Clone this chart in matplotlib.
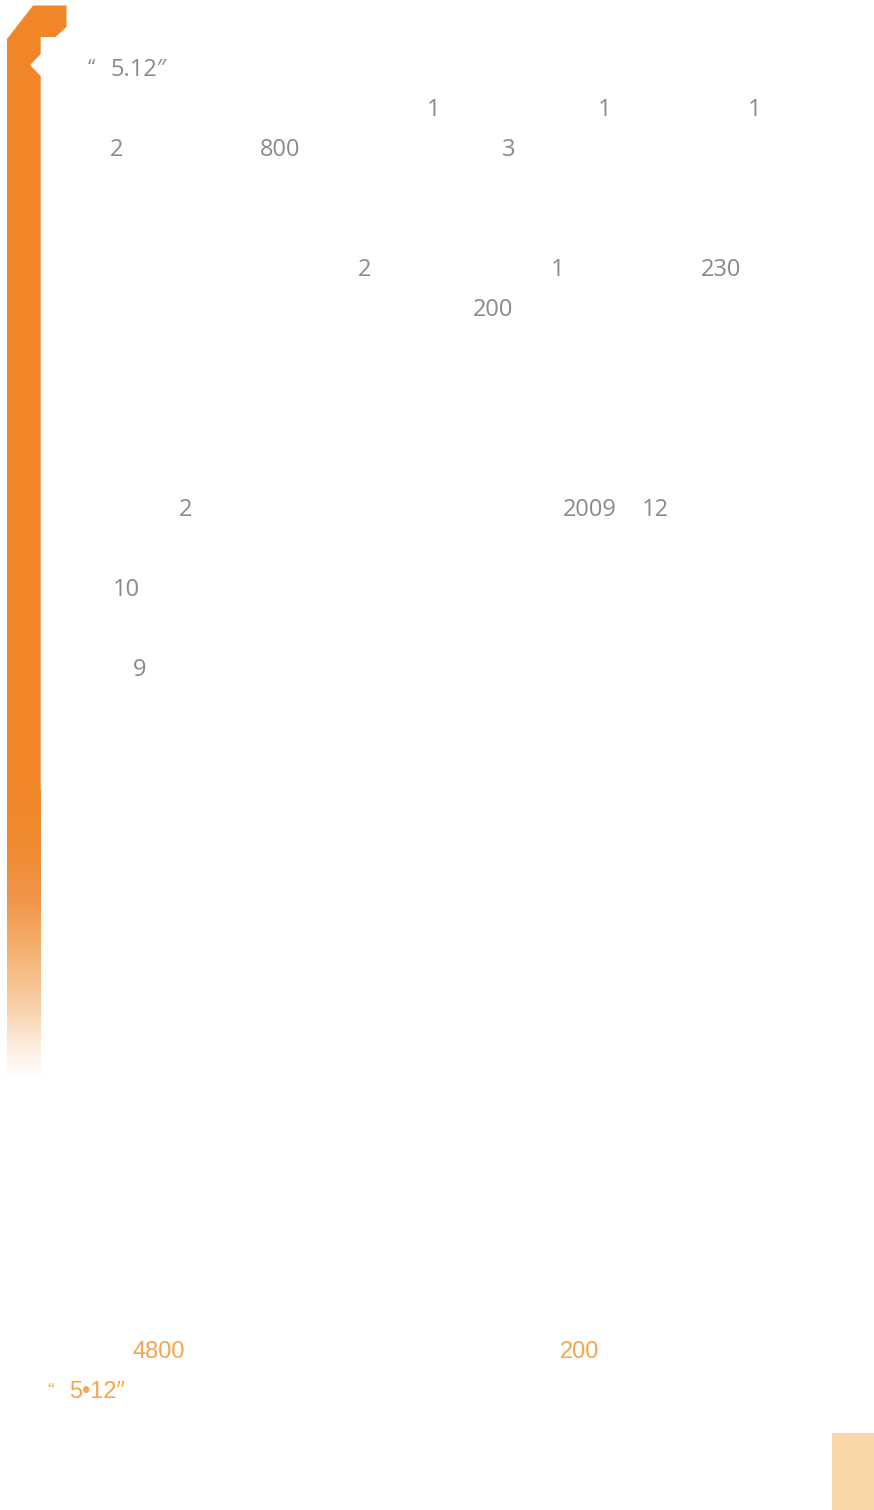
import numpy as np
import matplotlib
matplotlib.use("Agg")
import matplotlib.pyplot as plt
from matplotlib.patches import Polygon, Rectangle
from matplotlib.colors import LinearSegmentedColormap

# ---- content (text fragments visible on the page) ----
gray_labels = ["1", "1", "1",
               "2", "800", "3",
               "2", "1", "230",
               "200",
               "2", "2009", "12",
               "10",
               "9"]
orange_labels = ["4800", "200"]
title_label = "5.12″"
footer_label = "5•12″"

# ---- layout (pixel coordinates on the page) ----
W, H = 874, 1510
gray_x = [434, 605, 755,
          117, 280, 509,
          365, 558, 721.5,
          493.5,
          186, 590, 655.5,
          126,
          140]
gray_base = [116, 116, 116,
             156, 156, 156,
             276, 276, 276,
             316,
             516, 516, 516,
             596,
             676]
orange_x = [158.5, 580]
orange_base = [1358, 1358]

GRAY = "#8a8a8a"
ORANGE = "#f08628"
LORANGE = "#f5a54a"
GFONT = ["Open Sans", "DejaVu Sans"]
OFONT = ["Liberation Sans Narrow", "Liberation Sans", "DejaVu Sans"]

fig = plt.figure(figsize=(W / 100, H / 100), dpi=100)
ax = fig.add_axes([0, 0, 1, 1])
ax.set_xlim(0, W)
ax.set_ylim(H, 0)
ax.axis("off")

# orange decorative bracket (solid part)
solid_end = 790
shape = [(33, 5.5), (66.5, 5.5), (66.5, 27), (55.5, 37), (40.7, 37),
         (40.7, 54), (30, 65), (40.7, 76), (40.7, solid_end + 2),
         (7, solid_end + 2), (7, 39)]
ax.add_patch(Polygon(shape, closed=True, facecolor=ORANGE, edgecolor="none"))

# fading part of the bar, drawn as thin bands
cmap = LinearSegmentedColormap.from_list(
    "fade", [(0, ORANGE), (0.207, "#f08b32"), (0.379, "#f1954a"),
             (0.552, "#f4b070"), (0.724, "#f7cba0"), (0.897, "#fcefe2"),
             (1, "#ffffff")])
fade_end = 1080
n = fade_end - solid_end
for i in range(n):
    ax.add_patch(Rectangle((7, solid_end + i), 33.7, 1.05,
                           facecolor=cmap(i / (n - 1)), edgecolor="none"))

# title line
ax.text(88, 75, "“", color=GRAY, fontsize=15, family=GFONT, ha="left", va="baseline")
ax.text(110.5, 76, title_label, color=GRAY, fontsize=17, family=GFONT,
        ha="left", va="baseline")

# gray fragments
for lab, x, y in zip(gray_labels, gray_x, gray_base):
    ax.text(x, y, lab, color=GRAY, fontsize=17, family=GFONT,
            ha="center", va="baseline")

# orange fragments
for lab, x, y in zip(orange_labels, orange_x, orange_base):
    ax.text(x, y, lab, color=LORANGE, fontsize=17, family=OFONT,
            ha="center", va="baseline")
ax.text(47, 1396, "“", color=LORANGE, fontsize=14, family=OFONT, ha="left", va="baseline")
ax.text(69.5, 1398, footer_label, color=LORANGE, fontsize=17, family=OFONT,
        ha="left", va="baseline")

# bottom-right tab
ax.add_patch(Rectangle((832, 1433), 42, 77, facecolor="#f9d6a8", edgecolor="none"))

fig.savefig("out.png", dpi=100, facecolor="white")
